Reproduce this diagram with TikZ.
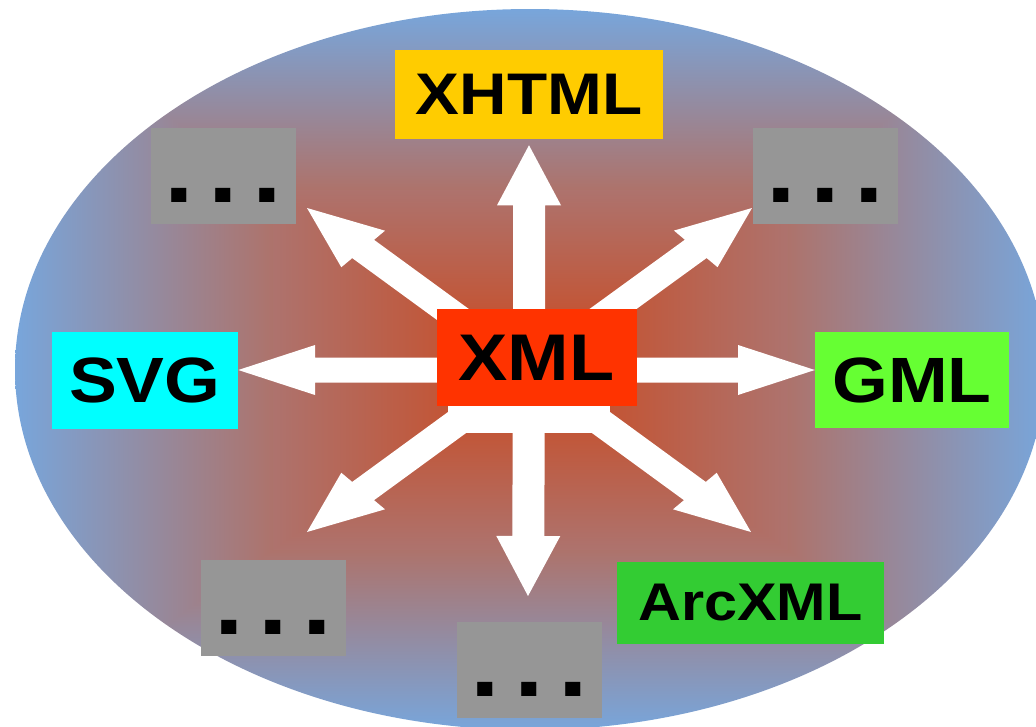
\documentclass[tikz,border=0pt]{standalone}
\usepackage{fontspec}
\setmainfont[FakeStretch=1.12]{Liberation Sans}
\usetikzlibrary{calc}

\definecolor{xhtmlcor}{HTML}{FFCC00}
\definecolor{svgcor}{HTML}{00FFFF}
\definecolor{gmlcor}{HTML}{66FF33}
\definecolor{xmlcor}{HTML}{FF3300}
\definecolor{arccor}{HTML}{33CC33}
\definecolor{cinza}{HTML}{969696}

% fundo: gradiente retangular, do centro (laranja) para a borda (azul)
\pgfdeclarefunctionalshading{brilho}{\pgfpoint{-50bp}{-50bp}}{\pgfpoint{50bp}{50bp}}{}{
  abs exch abs 2 copy lt {exch} if pop 25 div
  dup 1 gt {pop 1} if
  dup 0.5 lt
  { 2 mul
    dup -0.12 mul 0.80 add exch
    dup 0.17 mul 0.28 add exch
    0.32 mul 0.11 add }
  { 2 mul 1 sub
    dup -0.21 mul 0.68 add exch
    dup 0.20 mul 0.45 add exch
    0.44 mul 0.42 add }
  ifelse
}

\newdimen\arrx
\newdimen\arry
\newdimen\tipx
\newdimen\tipy
\newcommand{\setabranca}[2]{%
  % #1 = origem, #2 = ponta (coordenadas nomeadas)
  \pgfextractx{\arrx}{\pgfpointanchor{#1}{center}}%
  \pgfextracty{\arry}{\pgfpointanchor{#1}{center}}%
  \pgfextractx{\tipx}{\pgfpointanchor{#2}{center}}%
  \pgfextracty{\tipy}{\pgfpointanchor{#2}{center}}%
  \pgfmathsetmacro{\setang}{atan2(\the\tipy-\the\arry,(\the\tipx-\the\arrx)/1.28)}%
  \pgfmathsetmacro{\setlen}{veclen((\the\tipx-\the\arrx)/1.28,\the\tipy-\the\arry)}%
  \begin{scope}[shift={(\the\arrx,\the\arry)}, xscale=1.28, rotate=\setang]
    \fill[white] (0,-12.5) -- (\setlen-60,-12.5) -- (\setlen-60,-25) -- (\setlen,0)
      -- (\setlen-60,25) -- (\setlen-60,12.5) -- (0,12.5) -- cycle;
  \end{scope}%
}
\newcommand{\pontos}{.\hspace{14pt}.\hspace{14pt}.}

\tikzset{
  rotulo/.style={rectangle, inner sep=0pt},
  reticencias/.style={rectangle, fill=cinza, inner sep=0pt,
    minimum width=145pt, minimum height=96pt,
    text height=53.4pt, text depth=0pt,
    font=\bfseries\fontsize{95}{95}\selectfont},
}

\begin{document}
\begin{tikzpicture}[x=1pt, y=-1pt]

    \useasboundingbox (0,0) rectangle (1036,726);
    \clip (0,0) rectangle (1036,726);

    \shade[shading=brilho] (530,369.5) ellipse [x radius=515pt, y radius=360.5pt];

    \node[rotulo, fill=xhtmlcor, minimum width=268pt, minimum height=89.5pt,
      font=\bfseries\fontsize{58.7}{58.7}\selectfont] (xhtml) at (529,94.3) {XHTML};
    \node[rotulo, fill=svgcor, minimum width=186.5pt, minimum height=96.7pt,
      font=\bfseries\fontsize{64}{64}\selectfont] (svg) at (144.8,380.3) {SVG};
    \node[rotulo, fill=gmlcor, minimum width=194pt, minimum height=96pt,
      font=\bfseries\fontsize{64}{64}\selectfont] (gml) at (912,380) {GML};
    \node[rotulo, fill=arccor, minimum width=266.7pt, minimum height=82.8pt,
      font=\bfseries\fontsize{53}{53}\selectfont] (arcxml) at (750.3,603) {ArcXML};

    \node[reticencias] (outrosNW) at (223.2,175.5) {\pontos};
    \node[reticencias] (outrosNE) at (825.2,176) {\pontos};
    \node[reticencias] (outrosSW) at (273.3,607.5) {\pontos};
    \node[reticencias] (outrosS) at (529.2,669.7) {\pontos};

    \coordinate (hub) at (529,370);
    \coordinate (pN) at ($(xhtml.south)+(0,6)$);
    \coordinate (pS) at (528,596);
    \coordinate (pW) at (svg.east |- hub);
    \coordinate (pE) at (gml.west |- hub);
    \coordinate (pNW) at (307,208);
    \coordinate (pNE) at (752,208);
    \coordinate (pSW) at (307,532);
    \coordinate (pSE) at (751,532);

    \fill[white] (448,395) rectangle (610,433);
    \foreach \p in {pN,pS,pW,pE,pNW,pNE,pSW,pSE}
      \setabranca{hub}{\p};

    \node[rotulo, fill=xmlcor, minimum width=200pt, minimum height=96.7pt,
      font=\bfseries\fontsize{66}{66}\selectfont] (xml) at (536.7,357.7) {XML};

\end{tikzpicture}
\end{document}
